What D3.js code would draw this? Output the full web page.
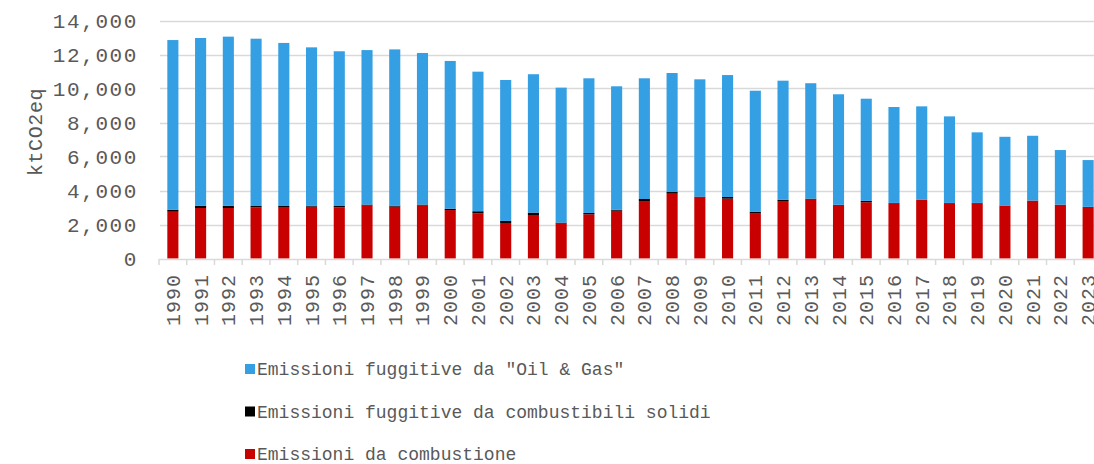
<!DOCTYPE html>
<html><head><meta charset="utf-8">
<script src="https://cdn.jsdelivr.net/npm/d3@7"></script>
<style>
body{margin:0;background:#fff;}
text{font-family:"Liberation Mono","DejaVu Sans Mono",monospace;fill:#595959;}
</style></head>
<body><svg id="c" width="1094" height="464"></svg>
<script>
const years = ["1990","1991","1992","1993","1994","1995","1996","1997","1998","1999","2000","2001","2002","2003","2004","2005","2006","2007","2008","2009","2010","2011","2012","2013","2014","2015","2016","2017","2018","2019","2020","2021","2022","2023"];
const combustione = [2750,2970,2970,3010,2990,3050,3010,3110,3050,3110,2850,2660,2090,2560,2050,2600,2810,3380,3810,3580,3520,2640,3380,3500,3150,3310,3260,3440,3260,3260,3110,3400,3160,3030];
const solidi = [120,130,130,80,100,60,80,60,60,60,80,120,120,140,60,80,60,120,100,60,100,100,80,20,10,80,10,10,10,10,10,10,10,10];
const oilGas = [9980,9870,9950,9840,9590,9310,9100,9090,9190,8920,8690,8210,8290,8140,7940,7920,7260,7100,7000,6900,7170,7130,7000,6790,6500,6010,5640,5500,5090,4150,4040,3810,3210,2750];
const yTicks = [0,2000,4000,6000,8000,10000,12000,14000];
const seriesNames = ["Emissioni da combustione","Emissioni fuggitive da combustibili solidi","Emissioni fuggitive da \"Oil & Gas\""];
const seriesColors = ["#C80000","#000000","#349FE3"];

const svg = d3.select("#c");
const x = d3.scaleBand().domain(years).range([159,1102]).paddingInner(0.6).paddingOuter(0.3);
const y = d3.scaleLinear().domain([0,14000]).range([258.5,20.5]);

// gridlines
svg.append("g").selectAll("line").data(yTicks.slice(1)).join("line")
  .attr("x1",160).attr("x2",1094).attr("y1",d=>Math.round(y(d))+0.5).attr("y2",d=>Math.round(y(d))+0.5)
  .attr("stroke","#d9d9d9").attr("stroke-width",1.5);

// stacked data
const rows = years.map((yr,i)=>({year:yr, c:combustione[i], s:solidi[i], o:oilGas[i]}));
const stack = d3.stack().keys(["c","s","o"])(rows);
svg.append("g").selectAll("g").data(stack).join("g")
  .attr("fill",(d,i)=>seriesColors[i])
  .selectAll("rect").data(d=>d).join("rect")
  .attr("x",d=>x(d.data.year)).attr("width",x.bandwidth())
  .attr("y",d=>y(d[1])).attr("height",d=>y(d[0])-y(d[1]));

// x axis
const xAxis = d3.axisBottom(x).tickSize(0).tickFormat("");
const gx = svg.append("g").attr("transform","translate(0,259)");
gx.append("line").attr("x1",159).attr("x2",1094).attr("y1",0.5).attr("y2",0.5).attr("stroke","#d9d9d9").attr("stroke-width",1.5);
const step = x.step();
gx.selectAll("line.tk").data(d3.range(years.length+1)).join("line").attr("class","tk")
  .attr("x1",i=>x(years[0]) - x.bandwidth()*0 - (step - x.bandwidth())/2 + i*step)
  .attr("x2",i=>x(years[0]) - (step - x.bandwidth())/2 + i*step)
  .attr("y1",0).attr("y2",6).attr("stroke","#d9d9d9").attr("stroke-width",1.5);
gx.selectAll("text").data(years).join("text")
  .attr("transform",d=>`translate(${x(d)+x.bandwidth()/2},15) rotate(-90)`)
  .attr("text-anchor","end").attr("dy","0.35em")
  .style("font-size","20px").style("letter-spacing","1px")
  .text(d=>d);

// y axis labels
const yAxis = d3.axisLeft(y).tickValues(yTicks).tickFormat(d3.format(","));
svg.append("g").selectAll("text").data(yTicks).join("text")
  .attr("x",138).attr("y",d=>y(d)).attr("dy","0.35em").attr("text-anchor","end")
  .style("font-size","21px").style("letter-spacing","1.6px")
  .text(d=>d3.format(",")(d));

// y title
svg.append("text").attr("transform","translate(35,132) rotate(-90)")
  .attr("text-anchor","middle").attr("dy","0.35em")
  .style("font-size","20px").style("letter-spacing","0.6px").text("ktCO2eq");

// legend
const legendOrder = [2,1,0];
const lg = svg.append("g").selectAll("g").data(legendOrder).join("g")
  .attr("transform",(d,i)=>`translate(245,${369+i*42.5})`);
lg.append("rect").attr("x",0).attr("y",-5).attr("width",10).attr("height",10).attr("fill",d=>seriesColors[d]);
lg.append("text").attr("x",12).attr("y",0).attr("dy","0.35em").style("font-size","18px")
  .text(d=>seriesNames[d]);
</script></body></html>
